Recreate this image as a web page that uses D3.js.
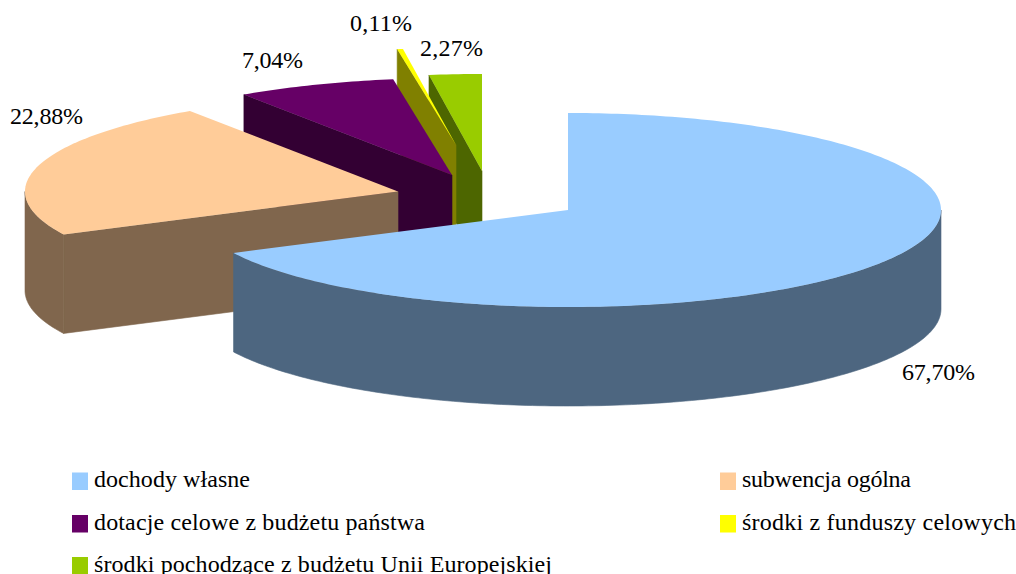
<!DOCTYPE html>
<html>
<head>
<meta charset="utf-8">
<script src="https://cdn.jsdelivr.net/npm/d3@7"></script>
<style>
html,body{margin:0;padding:0;background:#fff;overflow:hidden}
text{font-family:"Liberation Serif",serif;fill:#000}
</style>
</head>
<body>
<svg id="c" width="1016" height="574"></svg>
<script>
// Data
const categories = ["dochody własne","subwencja ogólna","dotacje celowe z budżetu państwa","środki z funduszy celowych","środki pochodzące z budżetu Unii Europejskiej"];
const shares = [67.70,22.88,7.04,0.11,2.27];
const percentLabels = ["67,70%","22,88%","7,04%","0,11%","2,27%"];

// Styles and layout
const topColors = ["#99CCFF","#FFCC99","#660066","#FFFF00","#99CC00"];
const sideColors = ["#4D6680","#80664D","#330033","#808000","#4D6600"];
const apexX = [568,398,452,456,482];
const apexY = [210,191.5,175,145,171];
const labelX = [902,10,242,350,420];
const labelY = [380,124,68,31,56];
const labelWidth = [73,73,61,62,63];
const legendX = [72,720,72,720,72];
const legendY = [472.5,472.5,515,515,557];
const legendWidth = [156,169,331,274,458];
const legendFont = 24, labelFont = 24;
const depth = 99, minSpan = 0.9 * Math.PI / 180;

const svg = d3.select("#c");
const sx = d3.scaleLinear().domain([-1,1]).range([-373,373]);
const sy = d3.scaleLinear().domain([-1,1]).range([-97,97]);

const arcs = d3.pie().sort(null).value(d => d)(shares).map((a,i) => ({i,start:a.startAngle,end:a.endAngle}));
// a hairline slice is widened to stay visible; its neighbour before it gives way
arcs.forEach((a,k) => {
  const span = a.end - a.start;
  if (span < minSpan) { const extra = minSpan - span; a.start -= extra; arcs[k-1].end -= extra; }
});

const px = (a,t) => apexX[a.i] + sx(Math.sin(t));
const py = (a,t) => apexY[a.i] - sy(Math.cos(t));
const line = d3.line();
const sample = (t0,t1) => {
  const n = Math.max(2, Math.ceil((t1-t0)*60));
  return d3.range(n+1).map(k => t0 + (t1-t0)*k/n);
};

const g = svg.append("g");
// Painter's order: back slices first
[4,3,2,1,0].map(i => arcs[i]).forEach(a => {
  const ax = apexX[a.i], ay = apexY[a.i];
  // visible radial wall at the slice's starting edge (a wall at 12 o'clock is edge-on)
  if (a.start > 0) {
    g.append("path")
      .attr("d", line([[ax,ay],[px(a,a.start),py(a,a.start)],[px(a,a.start),py(a,a.start)+depth],[ax,ay+depth]])+"Z")
      .attr("fill", sideColors[a.i]).attr("stroke", sideColors[a.i]).attr("stroke-width",0.6);
  }
  // outer wall: only the part on the near half of the ellipse
  const r0 = Math.max(a.start, Math.PI/2), r1 = Math.min(a.end, 3*Math.PI/2);
  if (r1 > r0) {
    const ts = sample(r0,r1);
    const upper = ts.map(t => [px(a,t),py(a,t)]);
    const lower = ts.slice().reverse().map(t => [px(a,t),py(a,t)+depth]);
    g.append("path").attr("d", line(upper.concat(lower))+"Z")
      .attr("fill", sideColors[a.i]).attr("stroke", sideColors[a.i]).attr("stroke-width",0.6);
  }
  // top face
  const rim = sample(a.start,a.end).map(t => [px(a,t),py(a,t)]);
  g.append("path").attr("d", line([[ax,ay]].concat(rim))+"Z").attr("fill", topColors[a.i]);
});

svg.append("g").selectAll("text").data(percentLabels).join("text")
  .attr("x",(d,i)=>labelX[i]).attr("y",(d,i)=>labelY[i])
  .attr("font-size",labelFont)
  .attr("textLength",(d,i)=>labelWidth[i]).attr("lengthAdjust","spacing").text(d=>d);

const leg = svg.append("g").selectAll("g").data(categories).join("g")
  .attr("transform",(d,i)=>`translate(${legendX[i]},${legendY[i]})`);
leg.append("rect").attr("width",16).attr("height",17.5).attr("fill",(d,i)=>topColors[i]);
leg.append("text").attr("x",22).attr("y",14.5).attr("font-size",legendFont)
  .attr("textLength",(d,i)=>legendWidth[i]).attr("lengthAdjust","spacing").text(d=>d);
</script>
</body>
</html>
